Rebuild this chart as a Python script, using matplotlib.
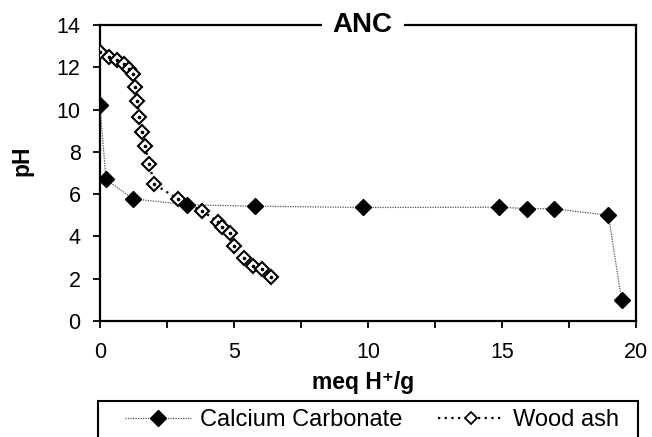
import matplotlib
matplotlib.use("Agg")
import matplotlib.pyplot as plt
from matplotlib.patches import Rectangle
from matplotlib.lines import Line2D

plt.rcParams["font.family"] = ["Liberation Sans", "DejaVu Sans"]

# Calcium Carbonate titration
caco3_x = [0.0, 0.22, 1.22, 3.23, 5.78, 9.82, 14.89, 15.92, 16.94, 18.97, 19.46]
caco3_y = [10.2, 6.7, 5.78, 5.5, 5.43, 5.37, 5.38, 5.32, 5.31, 5.0, 1.0]

# Wood ash titration
ash_x = [0.0, 0.35, 0.62, 0.90, 1.09, 1.22, 1.31, 1.39, 1.47, 1.55, 1.68, 1.84,
         2.03, 2.92, 3.79, 4.41, 4.57, 4.85, 5.01, 5.39, 5.72, 6.03, 6.37]
ash_y = [12.72, 12.47, 12.35, 12.16, 11.9, 11.66, 11.08, 10.42, 9.66, 8.95, 8.28, 7.41,
         6.47, 5.76, 5.22, 4.70, 4.46, 4.15, 3.55, 2.96, 2.60, 2.45, 2.10]

x_ticks = [0, 5, 10, 15, 20]
y_ticks = [0, 2, 4, 6, 8, 10, 12, 14]

fig = plt.figure(figsize=(6.52, 4.37), dpi=100)
ax = fig.add_axes([0.1534, 0.2654, 0.8221, 0.6774])

ax.plot(caco3_x, caco3_y, color="#555555", linestyle=(0, (1, 1)), linewidth=0.9,
        marker="D", markersize=8, markerfacecolor="black", markeredgecolor="black",
        zorder=3)
ax.plot(ash_x, ash_y, color="black", linestyle=(0, (1, 2)), linewidth=1.6,
        marker="D", markersize=7.5, markerfacecolor="white", markeredgecolor="black",
        markeredgewidth=1.5, zorder=4)
ax.plot(ash_x, ash_y, linestyle="none", marker="o", markersize=1.6,
        color="black", zorder=5)

ax.set_xlim(0, 20)
ax.set_ylim(0, 14)
ax.set_xticks([0, 2.5, 5, 7.5, 10, 12.5, 15, 17.5, 20])
ax.set_xticklabels(["0", "", "5", "", "10", "", "15", "", "20"])
ax.set_yticks(y_ticks)
ax.set_yticklabels([str(v) for v in y_ticks])

ax.tick_params(axis="both", direction="out", length=5, width=1.3, labelsize=15.5,
               colors="black")
ax.tick_params(axis="x", pad=10)
ax.tick_params(axis="y", pad=9)
for s in ax.spines.values():
    s.set_linewidth(1.6)
    s.set_color("black")

ax.set_xlabel("meq H⁺/g", fontsize=16.5, fontweight="bold")
ax.xaxis.set_label_coords(0.49, -0.17)
ax.set_ylabel("pH", fontsize=16.5, fontweight="bold")
ax.yaxis.set_label_coords(-0.125, 0.54)

ax.text(0.49, 1.0, "ANC", transform=ax.transAxes, ha="center", va="center",
        fontsize=20, fontweight="bold", zorder=10,
        bbox=dict(facecolor="white", edgecolor="none", pad=8))

# legend box (runs off the bottom of the figure)
fig.patches.append(Rectangle((98 / 652, -0.05), 540 / 652, 0.05 + 36 / 437,
                             transform=fig.transFigure, facecolor="white",
                             edgecolor="black", linewidth=1.5))
h1 = Line2D([], [], color="#555555", linestyle=(0, (1, 1)), linewidth=0.9,
            marker="D", markersize=8.5, markerfacecolor="black", markeredgecolor="black")
h2 = Line2D([], [], color="black", linestyle=(0, (1, 2)), linewidth=1.6,
            marker="D", markersize=6, markerfacecolor="white", markeredgecolor="black",
            markeredgewidth=1.3)
fig.legend([h1, h2], ["Calcium Carbonate", "Wood ash"], ncol=2, frameon=False,
           loc="center", bbox_to_anchor=(372 / 652, 1 - 420 / 437),
           fontsize=17, handlelength=2.8, handletextpad=0.4, columnspacing=1.5,
           borderpad=0, borderaxespad=0)

fig.savefig("out.png", dpi=100)
